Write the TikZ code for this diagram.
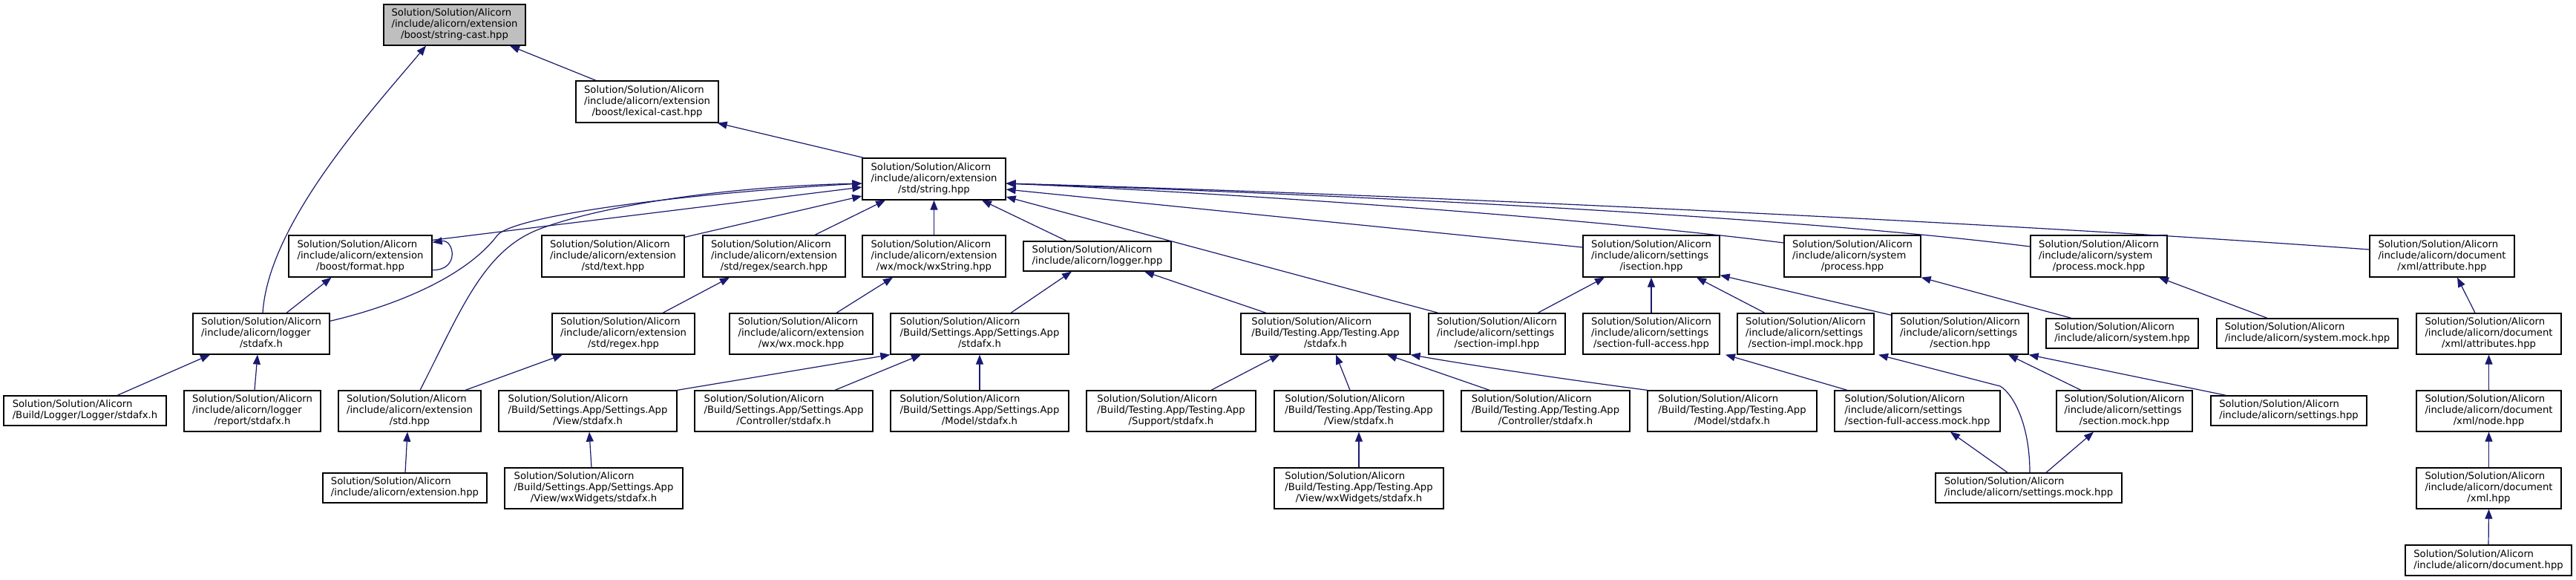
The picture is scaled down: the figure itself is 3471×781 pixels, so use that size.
\documentclass[tikz,border=0pt]{standalone}
\usepackage{fontspec}
\setmainfont{DejaVu Sans}
\usetikzlibrary{arrows.meta,calc}
\definecolor{edgeblue}{HTML}{191970}
\definecolor{rootgray}{HTML}{BFBFBF}
\newcommand\lblthree[3]{\begin{tabular}{@{}l@{}}#1\\#2\\\multicolumn{1}{@{}c@{}}{#3}\end{tabular}}
\newcommand\lbltwo[2]{\begin{tabular}{@{}l@{}}#1\\#2\end{tabular}}
\newcommand\SSA{Solution/Solution/Alicorn}
\tikzset{
  box/.style={draw=black, line width=1.3pt, fill=white, inner sep=0pt, align=center,
    font=\fontsize{13.2}{15}\selectfont},
  bx/.style 2 args={box, minimum width=#1pt, minimum height=#2pt},
  edge/.style={draw=edgeblue, line width=1.2pt, {Triangle[length=13pt,width=10pt]}-}
}
\begin{document}
\begin{tikzpicture}[x=1pt,y=-1pt]
\useasboundingbox[fill=white] (0,0) rectangle (3471,781);
% row 0
\node[bx={191}{55}, fill=rootgray] (sc) at (612.5,33.5) {\lblthree{\SSA}{/include/alicorn/extension}{/boost/string-cast.hpp}};
% row 1
\node[bx={192}{56}] (lc) at (872,137) {\lblthree{\SSA}{/include/alicorn/extension}{/boost/lexical-cast.hpp}};
% row 2
\node[bx={193}{56}] (str) at (1258.5,241) {\lblthree{\SSA}{/include/alicorn/extension}{/std/string.hpp}};
% row 3
\node[bx={193}{56}] (fmt) at (485.5,345) {\lblthree{\SSA}{/include/alicorn/extension}{/boost/format.hpp}};
\node[bx={192}{56}] (text) at (826,345) {\lblthree{\SSA}{/include/alicorn/extension}{/std/text.hpp}};
\node[bx={192}{56}] (search) at (1043,345) {\lblthree{\SSA}{/include/alicorn/extension}{/std/regex/search.hpp}};
\node[bx={193}{56}] (wxs) at (1258.5,345) {\lblthree{\SSA}{/include/alicorn/extension}{/wx/mock/wxString.hpp}};
\node[bx={199}{40}] (logger) at (1478.5,345) {\lbltwo{\SSA}{/include/alicorn/logger.hpp}};
\node[bx={184}{56}] (isec) at (2225,345) {\lblthree{\SSA}{/include/alicorn/settings}{/isection.hpp}};
\node[bx={184}{56}] (proc) at (2496,345) {\lblthree{\SSA}{/include/alicorn/system}{/process.hpp}};
\node[bx={184}{56}] (procm) at (2828,345) {\lblthree{\SSA}{/include/alicorn/system}{/process.mock.hpp}};
\node[bx={195}{56}] (attr) at (3290.5,345) {\lblthree{\SSA}{/include/alicorn/document}{/xml/attribute.hpp}};
% row 4
\node[bx={184}{55}] (lstd) at (352,449.5) {\lblthree{\SSA}{/include/alicorn/logger}{/stdafx.h}};
\node[bx={192}{55}] (regex) at (840,449.5) {\lblthree{\SSA}{/include/alicorn/extension}{/std/regex.hpp}};
\node[bx={193}{55}] (wxmock) at (1079.5,449.5) {\lblthree{\SSA}{/include/alicorn/extension}{/wx/wx.mock.hpp}};
\node[bx={240}{55}] (sapp) at (1320,449.5) {\lblthree{\SSA}{/Build/Settings.App/Settings.App}{/stdafx.h}};
\node[bx={228}{55}] (tapp) at (1786,449.5) {\lblthree{\SSA}{/Build/Testing.App/Testing.App}{/stdafx.h}};
\node[bx={184}{55}] (simpl) at (2017,449.5) {\lblthree{\SSA}{/include/alicorn/settings}{/section-impl.hpp}};
\node[bx={184}{55}] (sfa) at (2225,449.5) {\lblthree{\SSA}{/include/alicorn/settings}{/section-full-access.hpp}};
\node[bx={184}{55}] (simplm) at (2433,449.5) {\lblthree{\SSA}{/include/alicorn/settings}{/section-impl.mock.hpp}};
\node[bx={184}{55}] (sec) at (2641,449.5) {\lblthree{\SSA}{/include/alicorn/settings}{/section.hpp}};
\node[bx={205}{40}] (sys) at (2859.5,449) {\lbltwo{\SSA}{/include/alicorn/system.hpp}};
\node[bx={244}{40}] (sysm) at (3109,449) {\lbltwo{\SSA}{/include/alicorn/system.mock.hpp}};
\node[bx={195}{55}] (attrs) at (3353.5,449.5) {\lblthree{\SSA}{/include/alicorn/document}{/xml/attributes.hpp}};
% row 5
\node[bx={219}{40}] (llog) at (114.5,553) {\lbltwo{\SSA}{/Build/Logger/Logger/stdafx.h}};
\node[bx={184}{55}] (lrep) at (340,553.5) {\lblthree{\SSA}{/include/alicorn/logger}{/report/stdafx.h}};
\node[bx={192}{55}] (stdh) at (552,553.5) {\lblthree{\SSA}{/include/alicorn/extension}{/std.hpp}};
\node[bx={240}{55}] (sview) at (792,553.5) {\lblthree{\SSA}{/Build/Settings.App/Settings.App}{/View/stdafx.h}};
\node[bx={240}{55}] (sctrl) at (1056,553.5) {\lblthree{\SSA}{/Build/Settings.App/Settings.App}{/Controller/stdafx.h}};
\node[bx={240}{55}] (smodel) at (1320,553.5) {\lblthree{\SSA}{/Build/Settings.App/Settings.App}{/Model/stdafx.h}};
\node[bx={228}{55}] (tsup) at (1578,553.5) {\lblthree{\SSA}{/Build/Testing.App/Testing.App}{/Support/stdafx.h}};
\node[bx={228}{55}] (tview) at (1831,553.5) {\lblthree{\SSA}{/Build/Testing.App/Testing.App}{/View/stdafx.h}};
\node[bx={227}{55}] (tctrl) at (2082.5,553.5) {\lblthree{\SSA}{/Build/Testing.App/Testing.App}{/Controller/stdafx.h}};
\node[bx={228}{55}] (tmodel) at (2334,553.5) {\lblthree{\SSA}{/Build/Testing.App/Testing.App}{/Model/stdafx.h}};
\node[bx={223}{55}] (sfam) at (2583.5,553.5) {\lblthree{\SSA}{/include/alicorn/settings}{/section-full-access.mock.hpp}};
\node[bx={183}{55}] (secm) at (2862.5,553.5) {\lblthree{\SSA}{/include/alicorn/settings}{/section.mock.hpp}};
\node[bx={210}{40}] (sets) at (3084,553) {\lbltwo{\SSA}{/include/alicorn/settings.hpp}};
\node[bx={195}{55}] (xnode) at (3353.5,553.5) {\lblthree{\SSA}{/include/alicorn/document}{/xml/node.hpp}};
% row 6
\node[bx={221}{40}] (ext) at (545.5,657) {\lbltwo{\SSA}{/include/alicorn/extension.hpp}};
\node[bx={240}{55}] (swx) at (800,657.5) {\lblthree{\SSA}{/Build/Settings.App/Settings.App}{/View/wxWidgets/stdafx.h}};
\node[bx={228}{55}] (twx) at (1831,657.5) {\lblthree{\SSA}{/Build/Testing.App/Testing.App}{/View/wxWidgets/stdafx.h}};
\node[bx={251}{40}] (setm) at (2733.5,657) {\lbltwo{\SSA}{/include/alicorn/settings.mock.hpp}};
\node[bx={195}{55}] (xml) at (3353.5,657.5) {\lblthree{\SSA}{/include/alicorn/document}{/xml.hpp}};
% row 7
\node[bx={224}{41}] (doc) at (3353,754.5) {\lbltwo{\SSA}{/include/alicorn/document.hpp}};

% edges (arrow at included file)
\draw[edge] ($(sc.south)+(74.5,0)$) -- ($(lc.north)+(-69,0)$);
\draw[edge] ($(sc.south)+(-38.5,0)$) .. controls (500,150) and (362,300) .. ($(lstd.north)+(2,0)$);
\draw[edge] ($(lc.south east)+(-2,0)$) -- ($(str.north west)+(2,0)$);
\draw[edge] ($(str.west)+(0,11)$) -- ($(fmt.north east)+(0,7)$);
\draw[edge] ($(fmt.north east)+(0,10)$) .. controls (612,322) and (620,364) .. ($(fmt.south east)+(0,-10)$);
\draw[edge] ($(fmt.south)+(-39,0)$) -- ($(lstd.north)+(34,0)$);
\draw[edge] ($(str.west)+(0,6)$) .. controls (900,262) and (690,292) .. (670,317) .. controls (630,370) and (540,410) .. ($(lstd.north east)+(0,11)$);
\draw[edge] ($(str.west)+(0,6)$) .. controls (950,252) and (790,283) .. (723,310) .. controls (650,340) and (620,420) .. ($(stdh.north)+(14,0)$);
\draw[edge] ($(str.west)+(0,23)$) -- ($(text.north east)+(0,3)$);
\draw[edge] ($(str.south)+(-65.5,0)$) -- ($(search.north)+(55,0)$);
\draw[edge] (str.south) -- (wxs.north);
\draw[edge] ($(str.south)+(64.5,0)$) -- ($(logger.north)+(-41.5,0)$);
\draw[edge] ($(str.east)+(0,24)$) -- ($(simpl.north)+(-79,0)$);
\draw[edge] ($(str.east)+(0,14)$) -- ($(isec.west)+(0,-12)$);
\draw[edge] ($(str.east)+(0,6)$) .. controls (1700,262) and (2150,295) .. ($(proc.west)+(0,-18)$);
\draw[edge] ($(str.east)+(0,6)$) .. controls (1800,262) and (2400,290) .. ($(procm.west)+(0,-13)$);
\draw[edge] ($(str.east)+(0,6)$) .. controls (1900,262) and (2700,300) .. ($(attr.west)+(0,-9)$);
\draw[edge] ($(lstd.south)+(-69,0)$) -- ($(llog.north)+(43.5,0)$);
\draw[edge] ($(lstd.south)+(-5,0)$) -- ($(lrep.north)+(3,0)$);
\draw[edge] ($(search.south)+(-60,0)$) -- ($(regex.north)+(53,0)$);
\draw[edge] ($(regex.south)+(-82,0)$) -- ($(stdh.north)+(75,0)$);
\draw[edge] ($(stdh.south)+(-3,0)$) -- ($(ext.north)+(0.5,0)$);
\draw[edge] ($(wxs.south)+(-55.5,0)$) -- ($(wxmock.north)+(47.5,0)$);
\draw[edge] ($(logger.south)+(-34.5,0)$) -- ($(sapp.north)+(42,0)$);
\draw[edge] ($(logger.south)+(63.5,0)$) -- ($(tapp.north)+(-80,0)$);
\draw[edge] (sapp.south west) -- (sview.north east);
\draw[edge] ($(sapp.south)+(-79,0)$) -- ($(sctrl.north)+(69,0)$);
\draw[edge] (sapp.south) -- (smodel.north);
\draw[edge] ($(sview.south)+(2,0)$) -- ($(swx.north)+(-3,0)$);
\draw[edge] ($(tapp.south)+(-62,0)$) -- ($(tsup.north)+(54,0)$);
\draw[edge] ($(tapp.south)+(14,0)$) -- ($(tview.north)+(-12,0)$);
\draw[edge] ($(tapp.south)+(83,0)$) -- ($(tctrl.north)+(-75.5,0)$);
\draw[edge] (tapp.south east) .. controls (2000,495) and (2140,515) .. (tmodel.north west);
\draw[edge] (tview.south) -- (twx.north);
\draw[edge] ($(isec.south)+(-63,0)$) -- ($(simpl.north)+(55,0)$);
\draw[edge] (isec.south) -- (sfa.north);
\draw[edge] ($(isec.south)+(61,0)$) -- ($(simplm.north)+(-55,0)$);
\draw[edge] ($(isec.south east)+(0,-3)$) -- ($(sec.north west)+(0,3)$);
\draw[edge] ($(sfa.south)+(100,0)$) -- ($(sfam.north)+(-94.5,0)$);
\draw[edge] ($(simplm.south)+(98,0)$) -- (2695,520) .. controls (2712,530) and (2735,570) .. ($(setm.north)+(1.5,0)$);
\draw[edge] ($(sec.south)+(65,0)$) -- ($(secm.north)+(-58.5,0)$);
\draw[edge] (sec.south east) -- ($(sets.north west)+(21,0)$);
\draw[edge] ($(sfam.south)+(44.5,0)$) -- ($(setm.north)+(-28.5,0)$);
\draw[edge] ($(secm.south)+(-41.5,0)$) -- ($(setm.north)+(23.5,0)$);
\draw[edge] (proc.south east) -- ($(sys.north)+(-68.5,0)$);
\draw[edge] ($(procm.south)+(81,0)$) -- ($(sysm.north)+(-54,0)$);
\draw[edge] ($(attr.south)+(20.5,0)$) -- ($(attrs.north)+(-18.5,0)$);
\draw[edge] (attrs.south) -- (xnode.north);
\draw[edge] (xnode.south) -- (xml.north);
\draw[edge] (xml.south) -- (doc.north);
\end{tikzpicture}
\end{document}
